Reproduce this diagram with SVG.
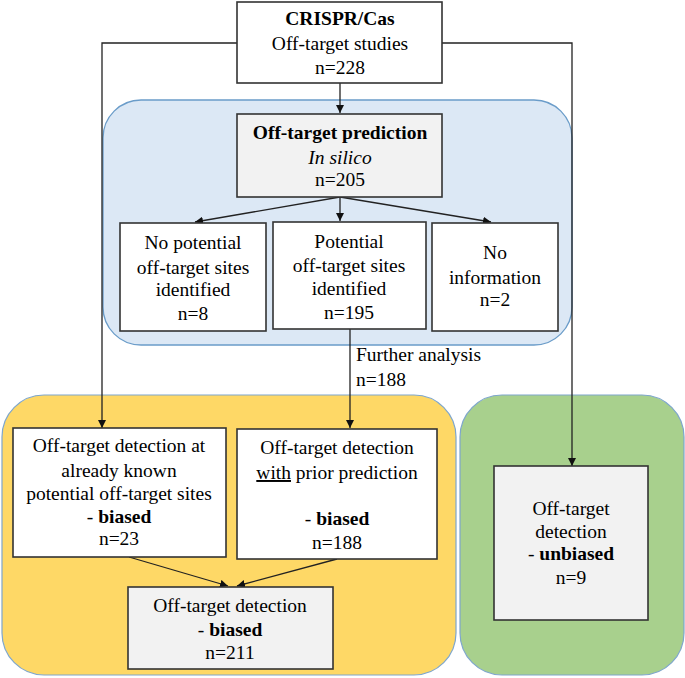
<svg xmlns="http://www.w3.org/2000/svg" width="685" height="678" viewBox="0 0 685 678">
<style>
text{font-family:"Liberation Serif","Times New Roman",serif;font-size:19.5px;fill:#000;text-anchor:middle}
.b{font-weight:bold}
.i{font-style:italic}
.box{fill:#fff;stroke:#333;stroke-width:1.6}
.gbox{fill:#f2f2f2;stroke:#333;stroke-width:1.6}
.c{fill:none;stroke:#222;stroke-width:1.3}
</style>
<defs>
<marker id="ah" viewBox="0 0 10 10" refX="10" refY="5" markerWidth="8" markerHeight="8" markerUnits="userSpaceOnUse" orient="auto">
<path d="M0,0 L10,5 L0,10 z" fill="#111"/>
</marker>
</defs>
<g id="regions">
<rect x="103" y="100" width="469" height="245" rx="38" fill="#dce8f5" stroke="#6a9cc9" stroke-width="1.3"/>
<rect x="2" y="395" width="454" height="280" rx="42" fill="#fed866" stroke="#7ea6cc" stroke-width="1.2"/>
<rect x="460" y="395" width="224" height="280" rx="42" fill="#a8d08d" stroke="#7ea6cc" stroke-width="1.2"/>
</g>
<g id="connectors">
<polyline class="c" points="237,43 102,43 102,428" marker-end="url(#ah)"/>
<polyline class="c" points="442,43 572,43 572,466" marker-end="url(#ah)"/>
<line class="c" x1="340" y1="83" x2="340" y2="113" marker-end="url(#ah)"/>
<line class="c" x1="340" y1="197" x2="195" y2="222" marker-end="url(#ah)"/>
<line class="c" x1="340" y1="197" x2="340" y2="221" marker-end="url(#ah)"/>
<line class="c" x1="340" y1="197" x2="491" y2="222" marker-end="url(#ah)"/>
<line class="c" x1="350" y1="329" x2="350" y2="428" marker-end="url(#ah)"/>
<line class="c" x1="129" y1="557" x2="228" y2="586" marker-end="url(#ah)"/>
<line class="c" x1="337" y1="559" x2="237" y2="586" marker-end="url(#ah)"/>
<text x="356" y="361" style="text-anchor:start">Further analysis</text>
<text x="356" y="386" style="text-anchor:start">n=188</text>
</g>
<g id="studies">
<rect class="box" x="237" y="2" width="205" height="81"/>
<text x="340" y="25" class="b">CRISPR/Cas</text>
<text x="340" y="50">Off-target studies</text>
<text x="340" y="74">n=228</text>
</g>
<g id="prediction">
<rect class="gbox" x="237" y="114" width="205" height="83"/>
<text x="340" y="139" class="b">Off-target prediction</text>
<text x="340" y="164" class="i">In silico</text>
<text x="340" y="186">n=205</text>
</g>
<g id="no-sites">
<rect class="box" x="120" y="223" width="146" height="108"/>
<text x="193" y="249">No potential</text>
<text x="193" y="274">off-target sites</text>
<text x="193" y="296">identified</text>
<text x="193" y="320">n=8</text>
</g>
<g id="sites">
<rect class="box" x="273" y="222" width="153" height="107"/>
<text x="349" y="248">Potential</text>
<text x="349" y="272">off-target sites</text>
<text x="349" y="295">identified</text>
<text x="349" y="319">n=195</text>
</g>
<g id="no-info">
<rect class="box" x="432" y="223" width="126" height="108"/>
<text x="495" y="259">No</text>
<text x="495" y="284">information</text>
<text x="495" y="306">n=2</text>
</g>
<g id="known">
<rect class="box" x="13" y="428" width="213" height="129"/>
<text x="119" y="452">Off-target detection at</text>
<text x="119" y="477">already known</text>
<text x="119" y="500">potential off-target sites</text>
<text x="119" y="523"><tspan>- </tspan><tspan class="b">biased</tspan></text>
<text x="119" y="545">n=23</text>
</g>
<g id="prior">
<rect class="box" x="237" y="429" width="200" height="130"/>
<text x="337" y="454">Off-target detection</text>
<text x="337" y="479"><tspan text-decoration="underline">with</tspan> prior prediction</text>
<text x="337" y="525"><tspan>- </tspan><tspan class="b">biased</tspan></text>
<text x="337" y="549">n=188</text>
</g>
<g id="biased">
<rect class="gbox" x="128" y="587" width="205" height="82"/>
<text x="230" y="612">Off-target detection</text>
<text x="230" y="636"><tspan>- </tspan><tspan class="b">biased</tspan></text>
<text x="230" y="659">n=211</text>
</g>
<g id="unbiased">
<rect class="gbox" x="494" y="466" width="154" height="154"/>
<text x="571" y="515">Off-target</text>
<text x="571" y="538">detection</text>
<text x="571" y="560"><tspan>- </tspan><tspan class="b">unbiased</tspan></text>
<text x="571" y="584">n=9</text>
</g>
</svg>
